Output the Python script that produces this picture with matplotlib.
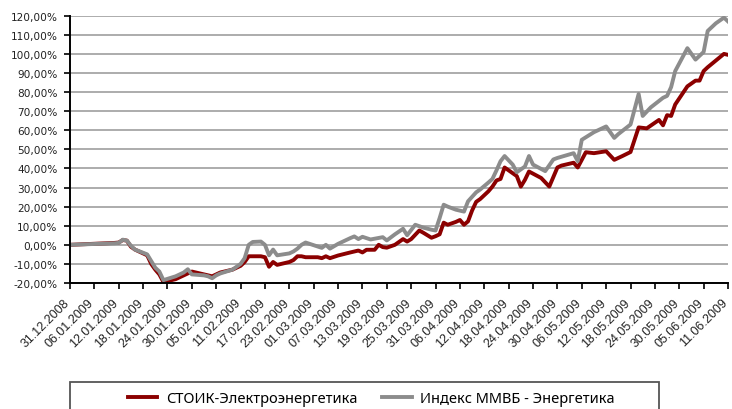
import matplotlib
matplotlib.use("Agg")
import matplotlib.pyplot as plt
import matplotlib.dates as mdates
from matplotlib.ticker import FuncFormatter
from matplotlib.patches import Rectangle
import pandas as pd

START = "2008-12-31"
END = "2009-06-11"

STOIK_LABEL = "СТОИК-Электроэнергетика"
STOIK_DATES = [
    "2008-12-31", "2009-01-11", "2009-01-12", "2009-01-13", "2009-01-14", "2009-01-15",
    "2009-01-16", "2009-01-19", "2009-01-20", "2009-01-21", "2009-01-22", "2009-01-23",
    "2009-01-26", "2009-01-27", "2009-01-28", "2009-01-29", "2009-01-30", "2009-02-02",
    "2009-02-03", "2009-02-04", "2009-02-05", "2009-02-06", "2009-02-09", "2009-02-10",
    "2009-02-11", "2009-02-12", "2009-02-13", "2009-02-16", "2009-02-17", "2009-02-18",
    "2009-02-19", "2009-02-20", "2009-02-23", "2009-02-24", "2009-02-25", "2009-02-26",
    "2009-02-27", "2009-03-02", "2009-03-03", "2009-03-04", "2009-03-05", "2009-03-07",
    "2009-03-10", "2009-03-12", "2009-03-13", "2009-03-14", "2009-03-16", "2009-03-17",
    "2009-03-18", "2009-03-19", "2009-03-21", "2009-03-23", "2009-03-24", "2009-03-25",
    "2009-03-27", "2009-03-28", "2009-03-30", "2009-03-31", "2009-04-01", "2009-04-02",
    "2009-04-03", "2009-04-05", "2009-04-06", "2009-04-07", "2009-04-08", "2009-04-09",
    "2009-04-10", "2009-04-11", "2009-04-13", "2009-04-14", "2009-04-15", "2009-04-16",
    "2009-04-17", "2009-04-19", "2009-04-20", "2009-04-21", "2009-04-22", "2009-04-23",
    "2009-04-26", "2009-04-28", "2009-04-30", "2009-05-01", "2009-05-04", "2009-05-05",
    "2009-05-07", "2009-05-09", "2009-05-12", "2009-05-14", "2009-05-16", "2009-05-18",
    "2009-05-20", "2009-05-22", "2009-05-25", "2009-05-26", "2009-05-27", "2009-05-28",
    "2009-05-29", "2009-06-01", "2009-06-03", "2009-06-04", "2009-06-05", "2009-06-06",
    "2009-06-08", "2009-06-10", "2009-06-11",
]
STOIK_VALUES = [
    0.0, 1.0, 1.2, 2.5, 2.2, -1.0,
    -2.5, -5.5, -10.0, -13.0, -15.5, -19.5,
    -18.0, -17.0, -16.0, -15.0, -14.0, -15.5,
    -16.0, -16.5, -15.5, -14.5, -13.0, -12.0,
    -11.0, -9.0, -6.0, -6.0, -6.5, -11.5,
    -9.0, -10.5, -9.0, -8.0, -6.0, -6.0,
    -6.5, -6.5, -7.0, -6.0, -7.0, -5.6,
    -4.0, -3.0, -4.0, -2.6, -2.6, 0.0,
    -1.2, -1.5, 0.0, 3.0, 1.7, 3.0,
    7.5, 6.3, 3.7, 4.5, 5.5, 11.6,
    10.5, 12.0, 13.0, 10.5, 12.3, 18.0,
    22.5, 24.0, 28.0, 30.5, 33.7, 34.5,
    40.5, 37.5, 36.0, 30.5, 34.0, 38.4,
    35.0, 30.5, 40.5, 41.5, 43.0, 40.5,
    48.5, 48.0, 49.0, 44.5, 46.5, 48.6,
    61.5, 61.0, 65.4, 62.6, 67.9, 67.5,
    73.5, 83.0, 86.0, 86.0, 91.0, 93.0,
    96.5, 100.0, 99.5,
]

MICEX_LABEL = "Индекс ММВБ - Энергетика"
MICEX_DATES = [
    "2008-12-31", "2009-01-11", "2009-01-12", "2009-01-13", "2009-01-14", "2009-01-15",
    "2009-01-16", "2009-01-19", "2009-01-20", "2009-01-21", "2009-01-22", "2009-01-23",
    "2009-01-26", "2009-01-27", "2009-01-28", "2009-01-29", "2009-01-30", "2009-02-02",
    "2009-02-03", "2009-02-04", "2009-02-05", "2009-02-06", "2009-02-09", "2009-02-10",
    "2009-02-11", "2009-02-12", "2009-02-13", "2009-02-14", "2009-02-16", "2009-02-17",
    "2009-02-18", "2009-02-19", "2009-02-20", "2009-02-23", "2009-02-24", "2009-02-25",
    "2009-02-26", "2009-02-27", "2009-03-03", "2009-03-04", "2009-03-05", "2009-03-07",
    "2009-03-10", "2009-03-11", "2009-03-12", "2009-03-13", "2009-03-15", "2009-03-18",
    "2009-03-19", "2009-03-21", "2009-03-23", "2009-03-24", "2009-03-26", "2009-03-28",
    "2009-03-30", "2009-03-31", "2009-04-01", "2009-04-02", "2009-04-03", "2009-04-05",
    "2009-04-07", "2009-04-08", "2009-04-10", "2009-04-11", "2009-04-13", "2009-04-14",
    "2009-04-15", "2009-04-16", "2009-04-17", "2009-04-19", "2009-04-20", "2009-04-22",
    "2009-04-23", "2009-04-24", "2009-04-27", "2009-04-29", "2009-04-30", "2009-05-04",
    "2009-05-05", "2009-05-06", "2009-05-09", "2009-05-12", "2009-05-14", "2009-05-15",
    "2009-05-18", "2009-05-20", "2009-05-21", "2009-05-23", "2009-05-26", "2009-05-27",
    "2009-05-28", "2009-05-29", "2009-06-01", "2009-06-03", "2009-06-05", "2009-06-06",
    "2009-06-08", "2009-06-10", "2009-06-11",
]
MICEX_VALUES = [
    0.0, 0.8, 1.0, 2.7, 2.2, -0.5,
    -2.5, -5.0, -8.5, -12.0, -14.0, -18.5,
    -16.5, -15.5, -14.5, -12.8, -15.5, -16.0,
    -16.5, -17.5, -16.0, -15.0, -13.0, -11.5,
    -10.0, -7.0, 0.0, 1.5, 1.7, 0.0,
    -5.5, -2.5, -5.5, -4.5, -3.5, -2.0,
    0.0, 1.2, -1.6, 0.0, -2.0, 0.5,
    3.5, 4.4, 3.0, 4.2, 2.8, 4.0,
    2.3, 5.5, 8.4, 5.0, 10.5, 9.0,
    7.9, 7.5, 14.0, 21.0, 20.0, 18.4,
    17.4, 22.8, 27.5, 29.0, 32.6, 34.5,
    39.0, 43.8, 46.5, 42.0, 38.0, 41.0,
    46.5, 42.0, 38.6, 44.7, 45.5, 48.0,
    43.8, 55.0, 59.0, 62.0, 56.0, 58.0,
    63.0, 79.0, 67.5, 72.0, 77.0, 78.0,
    82.6, 91.0, 103.0, 97.0, 101.0, 112.0,
    116.0, 119.0, 117.0,
]

RED = "#8b0000"
GREY = "#8c8c8c"


def percent_label(v, _):
    return ("%.2f%%" % v).replace(".", ",")


fig = plt.figure(figsize=(7.32, 4.10), dpi=100)
ax = fig.add_axes([70 / 732, 126 / 410, 658 / 732, 267.3 / 410])

ax.plot(pd.to_datetime(STOIK_DATES), STOIK_VALUES, color=RED, lw=2.8,
        solid_joinstyle="round", label=STOIK_LABEL, zorder=3)
ax.plot(pd.to_datetime(MICEX_DATES), MICEX_VALUES, color=GREY, lw=2.8,
        solid_joinstyle="round", label=MICEX_LABEL, zorder=4)

ax.set_xlim(pd.Timestamp(START), pd.Timestamp(END))
ax.set_ylim(-20, 120)
ax.set_yticks(range(-20, 121, 10))
ax.yaxis.set_major_formatter(FuncFormatter(percent_label))
ax.set_xticks(pd.date_range(START, END, freq="6D"))
ax.xaxis.set_major_formatter(mdates.DateFormatter("%d.%m.%Y"))

ax.yaxis.grid(True, color="#a6a6a6", lw=1.3)
ax.set_axisbelow(True)
for side in ["top", "right"]:
    ax.spines[side].set_visible(False)
for side in ["left", "bottom"]:
    ax.spines[side].set_color("black")
    ax.spines[side].set_linewidth(1.4)
    ax.spines[side].set_zorder(5)

ax.tick_params(axis="both", direction="out", length=4, width=1.2, color="black")
ax.tick_params(axis="y", pad=5, labelsize=7.6, labelcolor="#222222")
ax.tick_params(axis="x", pad=10)
for lbl in ax.get_xticklabels():
    lbl.set_rotation(45)
    lbl.set_ha("right")
    lbl.set_va("baseline")
    lbl.set_rotation_mode("anchor")
    lbl.set_fontfamily(["Liberation Sans Narrow", "Liberation Sans"])
    lbl.set_fontsize(9)
    lbl.set_color("#222222")

# legend box, cut by the bottom edge like in the source
fig.patches.append(Rectangle((70 / 732, -5 / 410), 589 / 732, 32 / 410,
                             transform=fig.transFigure, fill=False,
                             edgecolor="#555555", lw=1.3))
fig.legend(loc="center left", bbox_to_anchor=(121 / 732, 10 / 410), ncol=2,
           frameon=False, borderpad=0, handlelength=2.0, handletextpad=0.6,
           columnspacing=1.7, prop={"family": "Noto Sans", "size": 10.5})

fig.savefig("out.png", dpi=100)
